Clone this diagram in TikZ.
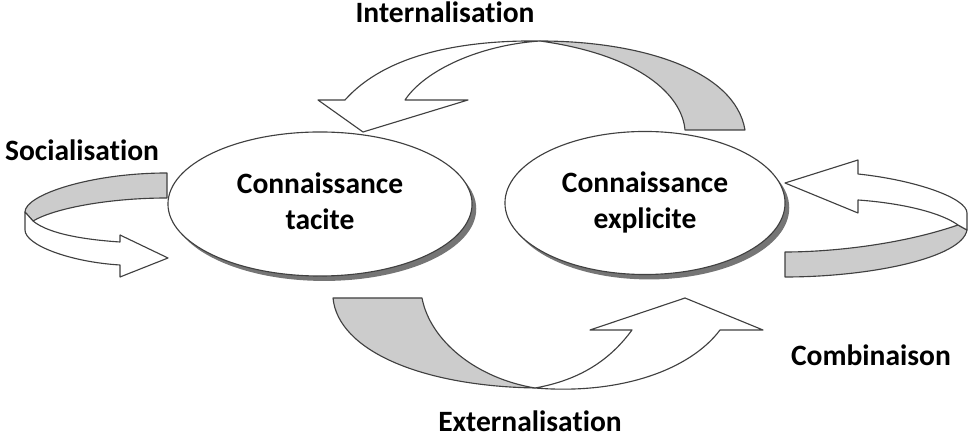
\documentclass[tikz,border=0pt]{standalone}
\usepackage{fontspec}
\setmainfont{Carlito}[Ligatures=NoCommon]
\usetikzlibrary{shapes.geometric,shadows}

\begin{document}
\begin{tikzpicture}[x=0.025cm,y=-0.025cm,
frontband/.style={draw=black!75,line width=0.8pt,fill=white,line join=round},
backband/.style={draw=black!75,line width=0.8pt,fill=black!20,line join=round},
bulle/.style={ellipse,draw=black!75,line width=0.8pt,fill=white,align=center,inner sep=0pt,
  drop shadow={shadow xshift=3pt,shadow yshift=-3.5pt,fill=black!60,opacity=0.9}},
lbl/.style={font=\bfseries\fontsize{21}{25.5}\selectfont,inner sep=1pt}]
\useasboundingbox (0,0) rectangle (976,438);
% internalisation
\draw[backband](540,41) .. controls (640,41) and (735,70) .. (745,130)
  -- (685,130) .. controls (682,95) and (640,55) .. (540,41) -- cycle;
\draw[frontband](318,100) -- (345,100) .. controls (385,55) and (460,40) .. (540,41)
  .. controls (480,45) and (425,70) .. (405,100) -- (468,100) -- (363,132) -- cycle;
% externalisation
\draw[backband](333,298) -- (422,298) .. controls (430,340) and (475,378) .. (535,388)
  .. controls (420,386) and (338,350) .. (333,298) -- cycle;
\draw[frontband](535,388) .. controls (620,395) and (690,370) .. (720,330) -- (763,330)
  -- (685,298) -- (590,330) -- (632,330) .. controls (610,360) and (580,380) .. (535,388) -- cycle;
% socialisation
\draw[backband](167,173) -- (167,198) .. controls (110,198) and (55,208) .. (33,221)
  -- (25,212) .. controls (25,195) and (90,173) .. (167,173) -- cycle;
\draw[frontband](25,212) -- (33,221) .. controls (50,235) and (90,240) .. (120,242)
  -- (120,235) -- (168,258) -- (120,277) -- (120,265)
  .. controls (70,262) and (25,245) .. (25,230) -- cycle;
% combinaison
\draw[backband](958,225) .. controls (900,245) and (830,252) .. (785,252) -- (785,277)
  .. controls (870,277) and (962,258) .. (967,230) -- cycle;
\draw[frontband](785,183) -- (858,160) -- (858,174) .. controls (915,180) and (967,198) .. (967,213)
  -- (967,230) -- (958,225) .. controls (940,212) and (900,203) .. (858,200) -- (858,213) -- cycle;
\node[bulle,lbl,inner sep=0pt,minimum width=7.6cm,minimum height=3.6cm] (tacite) at (320,204) {Connaissance\\tacite\\[-21pt]};
\node[bulle,lbl,inner sep=0pt,minimum width=7cm,minimum height=3.575cm] (explicite) at (645,203) {Connaissance\\explicite\\[-21pt]};
\node[lbl] (internalisation) at (445,12) {Internalisation};
\node[lbl] (socialisation) at (82,150) {Socialisation};
\node[lbl] (combinaison) at (871,355) {Combinaison};
\node[lbl] (externalisation) at (530,421) {Externalisation};
\end{tikzpicture}
\end{document}
